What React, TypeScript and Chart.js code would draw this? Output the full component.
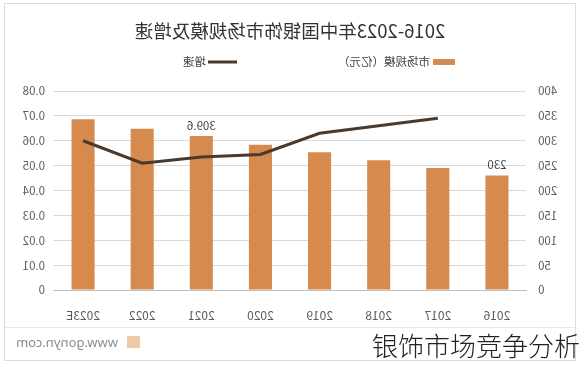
import React, { useEffect, useRef } from "react";
import { Chart, registerables } from "chart.js";

Chart.register(...registerables);

// ---- data ----
const categories = ["2016", "2017", "2018", "2019", "2020", "2021", "2022", "2023E"];
const marketSize = [230, 245, 261, 277, 292, 309.6, 324, 343];
const growthRate = [null, 0.069, 0.066, 0.063, 0.0545, 0.0535, 0.051, 0.06];
const barLabels = ["230", "", "", "", "", "309.6", "", ""];
const sizeAxisRange = [0, 400, 50];
const growthAxisRange = [0, 0.08, 0.01];
const chartTitle = "2016-2023年中国银饰市场规模及增速";
const sizeSeriesName = "市场规模（亿元）";
const growthSeriesName = "增速";
const footerText = "www.gonyn.com";
const overlayText = "银饰市场竞争分析";

const FONT = "'Noto Sans CJK SC', 'Noto Sans', sans-serif";
const BAR_COLOR = "#D68A4E";
const LINE_COLOR = "#4A3A2E";
const TEXT_COLOR = "#595959";

const decorPlugin = {
  id: "decor",
  afterDatasetsDraw(chart: any) {
    const ctx = chart.ctx;
    const meta = chart.getDatasetMeta(0);
    ctx.save();
    ctx.font = `11.5px ${FONT}`;
    ctx.fillStyle = "#404040";
    ctx.textAlign = "center";
    ctx.textBaseline = "bottom";
    meta.data.forEach((el: any, i: number) => {
      const t = barLabels[i];
      if (t) ctx.fillText(t, el.x, el.y - 5);
    });
    ctx.restore();
  },
  afterDraw(chart: any) {
    const ctx = chart.ctx;
    ctx.save();
    // title
    ctx.font = `18.5px ${FONT}`;
    ctx.fillStyle = "#333333";
    ctx.textAlign = "center";
    ctx.textBaseline = "middle";
    ctx.fillText(chartTitle, chart.width / 2, 31);
    // legend
    const ly = 62;
    ctx.font = `11.5px ${FONT}`;
    ctx.textAlign = "left";
    ctx.fillStyle = "#404040";
    let x = 125;
    ctx.fillStyle = BAR_COLOR;
    ctx.fillRect(x, ly - 3, 22, 6);
    x += 25;
    ctx.fillStyle = "#404040";
    ctx.fillText(sizeSeriesName, x, ly);
    x += ctx.measureText(sizeSeriesName).width + 101;
    ctx.strokeStyle = LINE_COLOR;
    ctx.lineWidth = 3;
    ctx.beginPath();
    ctx.moveTo(x, ly);
    ctx.lineTo(x + 29, ly);
    ctx.stroke();
    x += 31;
    ctx.fillText(growthSeriesName, x, ly);
    ctx.restore();
  },
};

export default function App() {
  const ref = useRef<HTMLCanvasElement>(null);

  useEffect(() => {
    if (!ref.current) return;
    const chart = new Chart(ref.current, {
      type: "bar",
      data: {
        labels: categories,
        datasets: [
          {
            type: "bar",
            label: sizeSeriesName,
            data: marketSize,
            backgroundColor: BAR_COLOR,
            barPercentage: 0.39,
            categoryPercentage: 1,
            yAxisID: "y",
            order: 1,
          },
          {
            type: "line",
            label: growthSeriesName,
            data: growthRate as any,
            borderColor: LINE_COLOR,
            borderWidth: 3,
            pointRadius: 0,
            tension: 0,
            yAxisID: "y1",
            order: 0,
          } as any,
        ],
      },
      options: {
        animation: false,
        responsive: false,
        devicePixelRatio: 1,
        layout: { padding: { top: 91, left: 0, right: 0, bottom: 0 } },
        plugins: {
          legend: { display: false },
          title: { display: false },
          tooltip: { enabled: false },
        },
        scales: {
          x: {
            grid: { display: false },
            border: { display: true, color: "#bfbfbf" },
            ticks: {
              color: TEXT_COLOR,
              font: { size: 12, family: FONT },
              padding: 10,
              maxRotation: 0,
            },
            afterFit: (s: any) => {
              s.height = 37;
            },
          },
          y: {
            position: "left",
            min: sizeAxisRange[0],
            max: sizeAxisRange[1],
            ticks: {
              stepSize: sizeAxisRange[2],
              color: TEXT_COLOR,
              font: { size: 11.5, family: FONT },
              padding: 11.5,
            },
            grid: { color: "#d9d9d9", drawTicks: false },
            border: { display: false },
            afterFit: (s: any) => {
              s.width = 53.5;
            },
          },
          y1: {
            position: "right",
            min: growthAxisRange[0],
            max: growthAxisRange[1],
            ticks: {
              stepSize: growthAxisRange[2],
              color: TEXT_COLOR,
              font: { size: 11.5, family: FONT },
              padding: 8.5,
              callback: (v: any) => (Number(v) === 0 ? "0" : Number(v).toFixed(2)),
            },
            grid: { display: false, drawTicks: false },
            border: { display: false },
            afterFit: (s: any) => {
              s.width = 53.5;
            },
          },
        },
      } as any,
      plugins: [decorPlugin],
    });
    return () => chart.destroy();
  }, []);

  return (
    <div
      style={{
        position: "fixed",
        left: 0,
        top: 0,
        width: 580,
        height: 365,
        background: "#ffffff",
        overflow: "hidden",
        fontFamily: FONT,
      }}
    >
      <div
        style={{
          position: "absolute",
          left: 0,
          top: 0,
          width: 580,
          height: 365,
          transform: "scaleX(-1)",
        }}
      >
        <div
          style={{
            position: "absolute",
            left: 4,
            top: 3,
            width: 572,
            height: 358,
            border: "1px solid #dcdcdc",
            boxSizing: "border-box",
          }}
        />
        <div
          style={{
            position: "absolute",
            left: 4,
            top: 327,
            width: 572,
            height: 1,
            background: "#e8e8e8",
          }}
        />
        <canvas
          ref={ref}
          width={580}
          height={327}
          style={{ position: "absolute", left: 0, top: 0, width: 580, height: 327 }}
        />
        <div
          style={{
            position: "absolute",
            left: 440,
            top: 336,
            width: 13,
            height: 12,
            background: "#f2c9a6",
          }}
        />
        <div
          style={{
            position: "absolute",
            left: 462,
            top: 333,
            fontSize: 13,
            lineHeight: "18px",
            color: "#8c8c8c",
            fontFamily: "'Noto Sans', sans-serif",
          }}
        >
          {footerText}
        </div>
      </div>
      <div
        style={{
          position: "absolute",
          left: 372,
          top: 328,
          fontSize: 26,
          lineHeight: "34px",
          color: "#222222",
          fontWeight: 300,
          whiteSpace: "nowrap",
        }}
      >
        {overlayText}
      </div>
    </div>
  );
}
